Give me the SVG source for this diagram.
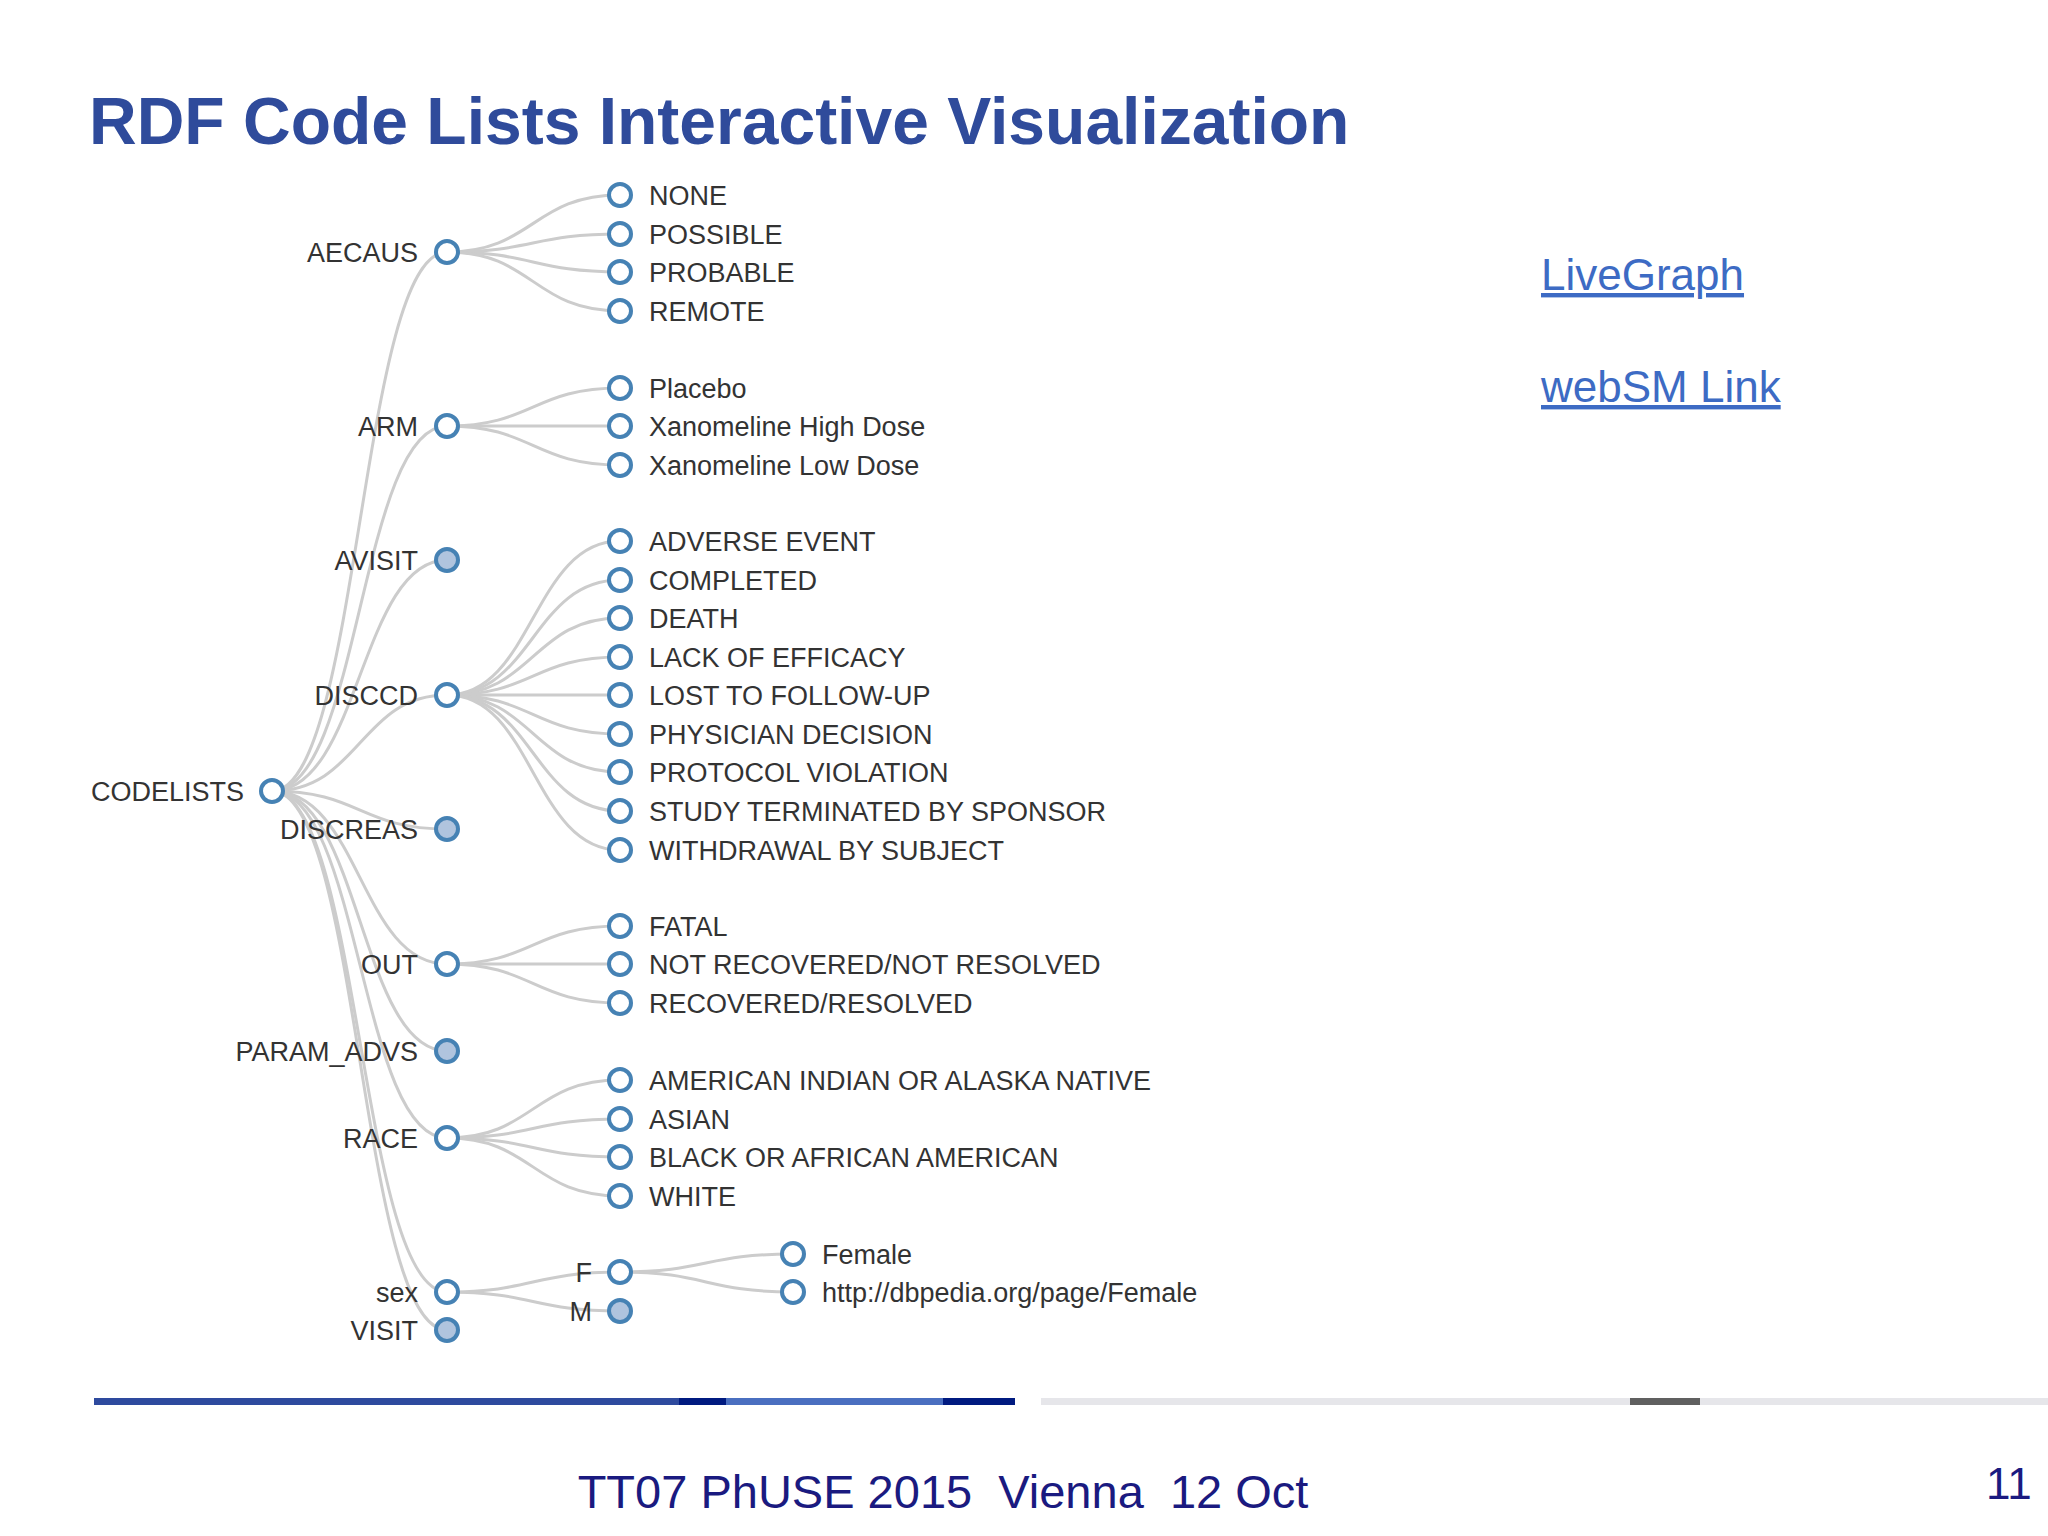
<svg xmlns="http://www.w3.org/2000/svg" width="2048" height="1536" viewBox="0 0 2048 1536">
<style>
text{font-family:"Liberation Sans",Arial,sans-serif}
.lbl{font-size:27px;fill:#333}
.r{text-anchor:end}
.n circle{stroke:#4682b4;stroke-width:4;fill:#fff}
.n.c circle{fill:#b0c4de}
#links path{fill:none;stroke:#ccc;stroke-width:3}
.lnk{font-size:44px;fill:#3d6bc4;text-decoration:underline}
</style>
<rect width="2048" height="1536" fill="#fff"/>
<text x="89" y="144" font-size="66" font-weight="bold" fill="#2f4b9b">RDF Code Lists Interactive Visualization</text>
<g id="links">
<path d="M272,791 C360,791 360,252 447,252"/>
<path d="M272,791 C360,791 360,426 447,426"/>
<path d="M272,791 C360,791 360,560 447,560"/>
<path d="M272,791 C360,791 360,695 447,695"/>
<path d="M272,791 C360,791 360,829 447,829"/>
<path d="M272,791 C360,791 360,964 447,964"/>
<path d="M272,791 C360,791 360,1051 447,1051"/>
<path d="M272,791 C360,791 360,1138 447,1138"/>
<path d="M272,791 C360,791 360,1292 447,1292"/>
<path d="M272,791 C360,791 360,1330 447,1330"/>
<path d="M447,252 C533,252 533,195 620,195"/>
<path d="M447,252 C533,252 533,234 620,234"/>
<path d="M447,252 C533,252 533,272 620,272"/>
<path d="M447,252 C533,252 533,311 620,311"/>
<path d="M447,426 C533,426 533,388 620,388"/>
<path d="M447,426 C533,426 533,426 620,426"/>
<path d="M447,426 C533,426 533,465 620,465"/>
<path d="M447,695 C533,695 533,541 620,541"/>
<path d="M447,695 C533,695 533,580 620,580"/>
<path d="M447,695 C533,695 533,618 620,618"/>
<path d="M447,695 C533,695 533,657 620,657"/>
<path d="M447,695 C533,695 533,695 620,695"/>
<path d="M447,695 C533,695 533,734 620,734"/>
<path d="M447,695 C533,695 533,772 620,772"/>
<path d="M447,695 C533,695 533,811 620,811"/>
<path d="M447,695 C533,695 533,850 620,850"/>
<path d="M447,964 C533,964 533,926 620,926"/>
<path d="M447,964 C533,964 533,964 620,964"/>
<path d="M447,964 C533,964 533,1003 620,1003"/>
<path d="M447,1138 C533,1138 533,1080 620,1080"/>
<path d="M447,1138 C533,1138 533,1119 620,1119"/>
<path d="M447,1138 C533,1138 533,1157 620,1157"/>
<path d="M447,1138 C533,1138 533,1196 620,1196"/>
<path d="M447,1292 C533,1292 533,1272 620,1272"/>
<path d="M447,1292 C533,1292 533,1311 620,1311"/>
<path d="M620,1272 C706,1272 706,1254 793,1254"/>
<path d="M620,1272 C706,1272 706,1292 793,1292"/>
</g>
<g id="codelists" class="n"><circle cx="272" cy="791" r="11"/><text class="lbl r" x="244" y="801">CODELISTS</text></g>
<g id="aecaus" class="n"><circle cx="447" cy="252" r="11"/><text class="lbl r" x="418" y="262">AECAUS</text></g>
<g id="arm" class="n"><circle cx="447" cy="426" r="11"/><text class="lbl r" x="418" y="436">ARM</text></g>
<g id="avisit" class="n c"><circle cx="447" cy="560" r="11"/><text class="lbl r" x="418" y="570">AVISIT</text></g>
<g id="disccd" class="n"><circle cx="447" cy="695" r="11"/><text class="lbl r" x="418" y="705">DISCCD</text></g>
<g id="discreas" class="n c"><circle cx="447" cy="829" r="11"/><text class="lbl r" x="418" y="839">DISCREAS</text></g>
<g id="out" class="n"><circle cx="447" cy="964" r="11"/><text class="lbl r" x="418" y="974">OUT</text></g>
<g id="param_advs" class="n c"><circle cx="447" cy="1051" r="11"/><text class="lbl r" x="418" y="1061">PARAM_ADVS</text></g>
<g id="race" class="n"><circle cx="447" cy="1138" r="11"/><text class="lbl r" x="418" y="1148">RACE</text></g>
<g id="sex" class="n"><circle cx="447" cy="1292" r="11"/><text class="lbl r" x="418" y="1302">sex</text></g>
<g id="visit" class="n c"><circle cx="447" cy="1330" r="11"/><text class="lbl r" x="418" y="1340">VISIT</text></g>
<g id="none" class="n"><circle cx="620" cy="195" r="11"/><text class="lbl" x="649" y="205">NONE</text></g>
<g id="possible" class="n"><circle cx="620" cy="234" r="11"/><text class="lbl" x="649" y="244">POSSIBLE</text></g>
<g id="probable" class="n"><circle cx="620" cy="272" r="11"/><text class="lbl" x="649" y="282">PROBABLE</text></g>
<g id="remote" class="n"><circle cx="620" cy="311" r="11"/><text class="lbl" x="649" y="321">REMOTE</text></g>
<g id="placebo" class="n"><circle cx="620" cy="388" r="11"/><text class="lbl" x="649" y="398">Placebo</text></g>
<g id="xhigh" class="n"><circle cx="620" cy="426" r="11"/><text class="lbl" x="649" y="436">Xanomeline High Dose</text></g>
<g id="xlow" class="n"><circle cx="620" cy="465" r="11"/><text class="lbl" x="649" y="475">Xanomeline Low Dose</text></g>
<g id="ae" class="n"><circle cx="620" cy="541" r="11"/><text class="lbl" x="649" y="551">ADVERSE EVENT</text></g>
<g id="completed" class="n"><circle cx="620" cy="580" r="11"/><text class="lbl" x="649" y="590">COMPLETED</text></g>
<g id="death" class="n"><circle cx="620" cy="618" r="11"/><text class="lbl" x="649" y="628">DEATH</text></g>
<g id="loe" class="n"><circle cx="620" cy="657" r="11"/><text class="lbl" x="649" y="667">LACK OF EFFICACY</text></g>
<g id="ltfu" class="n"><circle cx="620" cy="695" r="11"/><text class="lbl" x="649" y="705">LOST TO FOLLOW-UP</text></g>
<g id="physician" class="n"><circle cx="620" cy="734" r="11"/><text class="lbl" x="649" y="744">PHYSICIAN DECISION</text></g>
<g id="protocol" class="n"><circle cx="620" cy="772" r="11"/><text class="lbl" x="649" y="782">PROTOCOL VIOLATION</text></g>
<g id="sponsor" class="n"><circle cx="620" cy="811" r="11"/><text class="lbl" x="649" y="821">STUDY TERMINATED BY SPONSOR</text></g>
<g id="withdrawal" class="n"><circle cx="620" cy="850" r="11"/><text class="lbl" x="649" y="860">WITHDRAWAL BY SUBJECT</text></g>
<g id="fatal" class="n"><circle cx="620" cy="926" r="11"/><text class="lbl" x="649" y="936">FATAL</text></g>
<g id="notrec" class="n"><circle cx="620" cy="964" r="11"/><text class="lbl" x="649" y="974">NOT RECOVERED/NOT RESOLVED</text></g>
<g id="rec" class="n"><circle cx="620" cy="1003" r="11"/><text class="lbl" x="649" y="1013">RECOVERED/RESOLVED</text></g>
<g id="amind" class="n"><circle cx="620" cy="1080" r="11"/><text class="lbl" x="649" y="1090">AMERICAN INDIAN OR ALASKA NATIVE</text></g>
<g id="asian" class="n"><circle cx="620" cy="1119" r="11"/><text class="lbl" x="649" y="1129">ASIAN</text></g>
<g id="black" class="n"><circle cx="620" cy="1157" r="11"/><text class="lbl" x="649" y="1167">BLACK OR AFRICAN AMERICAN</text></g>
<g id="white" class="n"><circle cx="620" cy="1196" r="11"/><text class="lbl" x="649" y="1206">WHITE</text></g>
<g id="f" class="n"><circle cx="620" cy="1272" r="11"/><text class="lbl r" x="592" y="1282">F</text></g>
<g id="m" class="n c"><circle cx="620" cy="1311" r="11"/><text class="lbl r" x="592" y="1321">M</text></g>
<g id="female" class="n"><circle cx="793" cy="1254" r="11"/><text class="lbl" x="822" y="1264">Female</text></g>
<g id="dbpedia" class="n"><circle cx="793" cy="1292" r="11"/><text class="lbl" x="822" y="1302">http://dbpedia.org/page/Female</text></g>
<text class="lnk" x="1541" y="290">LiveGraph</text>
<text class="lnk" x="1541" y="402">webSM Link</text>
<rect x="94" y="1398" width="585" height="7" fill="#2e4a9e"/>
<rect x="679" y="1398" width="47" height="7" fill="#001a80"/>
<rect x="726" y="1398" width="217" height="7" fill="#4a6fc0"/>
<rect x="943" y="1398" width="72" height="7" fill="#001a80"/>
<rect x="1041" y="1398" width="1007" height="7" fill="#e6e6ea"/>
<rect x="1630" y="1398" width="70" height="7" fill="#606060"/>
<text x="943" y="1508" font-size="47" fill="#1a1a80" text-anchor="middle" xml:space="preserve">TT07 PhUSE 2015  Vienna  12 Oct</text>
<text x="1986" y="1499" font-size="44" fill="#1a1a80">11</text>
</svg>
